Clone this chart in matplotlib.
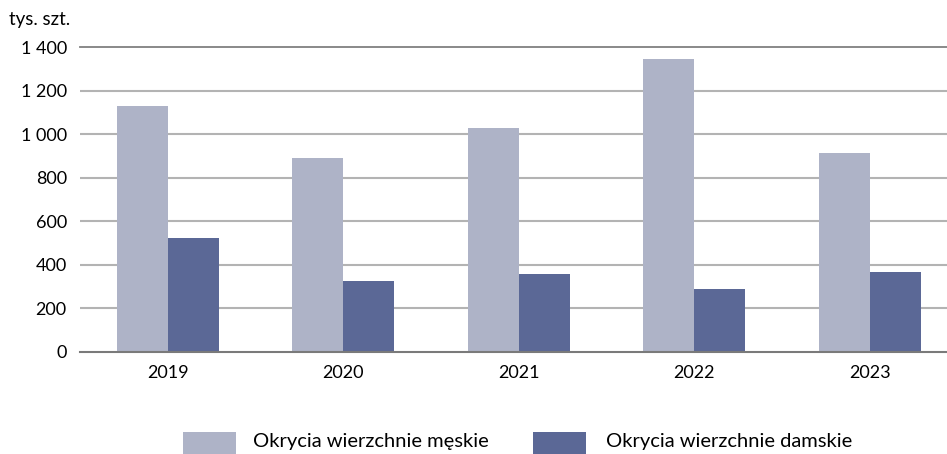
import matplotlib.pyplot as plt
import numpy as np
from matplotlib.patches import Rectangle

plt.rcParams['font.family'] = ['Lato', 'DejaVu Sans']

years = ["2019", "2020", "2021", "2022", "2023"]
mens = [1131, 892, 1030, 1347, 915]
womens = [524, 326, 359, 290, 368]
yticks = [0, 200, 400, 600, 800, 1000, 1200, 1400]
ytick_labels = ["0", "200", "400", "600", "800", "1 000", "1 200", "1 400"]
series_names = ["Okrycia wierzchnie męskie", "Okrycia wierzchnie damskie"]

light = "#aeb3c7"
dark = "#5b6896"

W, H = 947, 454
fig = plt.figure(figsize=(W/100, H/100), dpi=100)
ax = fig.add_axes([80/W, 102/H, 867/W, 305/H])

x = np.arange(len(years))
w = 0.29
ax.bar(x - w/2, mens, w, color=light, zorder=3)
ax.bar(x + w/2, womens, w, color=dark, zorder=3)

ax.set_xlim(-0.5, -0.5 + 867/175.5)
ax.set_ylim(0, 1400)
for t in yticks[1:-1]:
    ax.axhline(t, color="#b3b3b3", lw=1.5, zorder=1)
ax.axhline(1400, color="#808080", lw=1.3, zorder=1, clip_on=False)
ax.axhline(0, color="#7a7a7a", lw=1.5, zorder=4, clip_on=False)

for s in ax.spines.values():
    s.set_visible(False)
ax.set_yticks(yticks)
ax.set_yticklabels(ytick_labels)
ax.set_xticks(x)
ax.set_xticklabels(years)
ax.tick_params(length=0, labelsize=13, colors="#000000")
ax.tick_params(axis='y', pad=9.5)
ax.tick_params(axis='x', pad=9)

fig.text(9/W, 1 - 19/H, "tys. szt.", fontsize=13.5, va="center", ha="left")

# legend drawn by hand so it sits like the original
patch_x = [183, 533]
text_x = [253, 606]
for px, tx, c, name in zip(patch_x, text_x, [light, dark], series_names):
    fig.add_artist(Rectangle((px/W, 0), 53/W, 22/H, transform=fig.transFigure,
                             color=c, lw=0))
    fig.text(tx/W, 4/H, name, fontsize=14.5, va="bottom", ha="left")

fig.savefig("out.png", dpi=100)
